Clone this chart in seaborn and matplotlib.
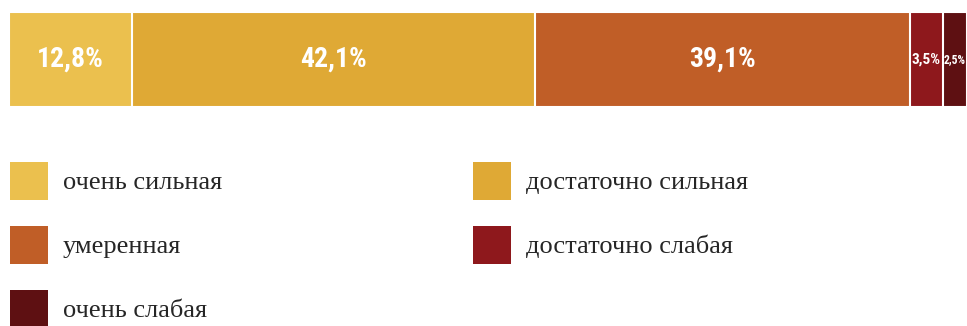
import matplotlib
matplotlib.use("Agg")
import matplotlib.pyplot as plt
from matplotlib.patches import Patch
from matplotlib import font_manager
import seaborn as sns
import pandas as pd
import numpy as np

categories = ["очень сильная", "достаточно сильная", "умеренная", "достаточно слабая", "очень слабая"]
values = [12.8, 42.1, 39.1, 3.5, 2.5]
value_labels = ["12,8%", "42,1%", "39,1%", "3,5%", "2,5%"]
colors = ["#EBC04E", "#DFA935", "#C05E27", "#8E181C", "#5E1012"]

sns.set_theme(style="white")
plt.rcParams["font.family"] = ["Liberation Serif", "DejaVu Serif"]

W, H = 967, 326
fig = plt.figure(figsize=(W / 100, H / 100), dpi=100)
fig.patch.set_facecolor("white")

# bar axes: x 9..967, y 12..107 px
ax = fig.add_axes([9 / W, 1 - 107 / H, (W - 9) / W, 95 / H])

cum = np.cumsum(values)
df = pd.DataFrame({"cat": categories, "cum": cum, "row": ["all"] * len(values)})
order = categories[::-1]
sns.barplot(data=df, x="cum", y="row", hue="cat", hue_order=order,
            palette=dict(zip(categories, colors)), saturation=1, dodge=False, width=1.0,
            legend=False, edgecolor="white", linewidth=1.5, ax=ax, orient="h")
for p in ax.patches:
    p.set_zorder(200 - p.get_width())

ax.set_xlim(0, 100)
ax.set_ylim(0.5, -0.5)
ax.axis("off")

# percentage labels
avail = {f.name for f in font_manager.fontManager.ttflist}
lab_font = [f for f in ["Roboto Condensed", "Open Sans Condensed", "Liberation Sans Narrow",
                        "Liberation Sans"] if f in avail] + ["DejaVu Sans"]
for c, v, t in zip(cum, values, value_labels):
    x = c - v / 2
    fs = 20 if v > 10 else (11 if v > 3 else 8.5)
    ax.text(x, 0, t, ha="center", va="center", color="white", fontsize=fs,
            fontweight="bold", family=lab_font, zorder=500)

# legend
leg_order = [0, 2, 4, 1, 3]
handles = [Patch(facecolor=colors[i], edgecolor="none") for i in leg_order]
labels = [categories[i] for i in leg_order]
fs_leg = 19
fig.legend(handles, labels, ncol=2, loc="upper left",
           bbox_to_anchor=(10 / W, 1 - 162 / H),
           frameon=False, handlelength=1.44, handleheight=1.84,
           handletextpad=0.55, labelspacing=0.98, columnspacing=9.53,
           borderaxespad=0, borderpad=0,
           prop={"family": ["Liberation Serif"], "size": fs_leg})

fig.savefig("out.png", dpi=100, facecolor="white")
